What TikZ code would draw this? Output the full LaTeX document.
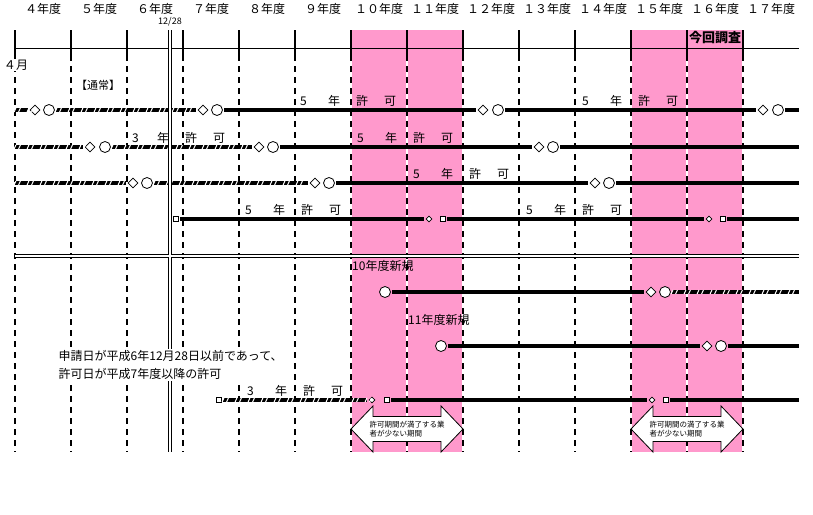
\documentclass[tikz,border=0pt]{standalone}
\usepackage{fontspec}
\setmainfont{Noto Sans CJK JP}
\usetikzlibrary{decorations.markings,shapes.geometric}
\definecolor{bandpink}{RGB}{255,153,204}
\newcommand{\nenkyoka}[1]{\makebox[28pt][l]{#1}\makebox[28pt][l]{年}\makebox[28pt][l]{許}可}
\tikzset{
  thickln/.style={line width=4pt},
  hatch/.style={line width=4pt, postaction={decorate, decoration={markings,
     mark=between positions 0 and 1 step 13pt with {
       \draw[white,line width=1pt] (-0.9pt,-2pt) -- (0.9pt,2pt);
       \draw[white,line width=1pt] (3.6pt,-2pt) -- (5.4pt,2pt);}}}},
  dia/.style={diamond, draw, fill=white, line width=0.8pt, inner sep=0pt, minimum width=11pt, minimum height=11pt, outer sep=1.5pt},
  cir/.style={circle, draw, fill=white, line width=0.8pt, inner sep=0pt, minimum size=11pt, outer sep=1.5pt},
  sdia/.style={diamond, draw, fill=white, line width=0.7pt, inner sep=0pt, minimum width=7pt, minimum height=7pt, outer sep=1.5pt},
  ssq/.style={rectangle, draw, fill=white, line width=0.7pt, inner sep=0pt, minimum size=5pt, outer sep=1.5pt},
  vdash/.style={line width=2pt, dash pattern=on 6pt off 5pt},
  vsolid/.style={line width=2pt},
  dbl/.style={double=white, double distance=2pt, line width=1pt},
  yearlab/.style={font=\fontsize{12pt}{14pt}\selectfont, inner sep=0pt},
  lab/.style={font=\fontsize{12pt}{14pt}\selectfont, inner sep=0pt},
  kyoka/.style={font=\fontsize{12pt}{14pt}\selectfont, inner sep=0pt, anchor=base west},
  blockarrow/.style={draw, fill=white, line width=0.8pt, line join=miter},
  arrowtext/.style={font=\fontsize{7.5pt}{9.5pt}\selectfont, align=left, inner sep=0pt}
}
\begin{document}
\begin{tikzpicture}[x=1pt,y=-1pt]
\useasboundingbox (0,0) rectangle (813,514);
\fill[white] (0,0) rectangle (813,514);
% pink bands
\fill[bandpink] (351,30) rectangle (463,452);
\fill[bandpink] (631,30) rectangle (743,452);
% header line
\draw[line width=1pt] (15,48) -- (799,48);
% vertical year lines
\foreach \i in {0,...,13} {
  \pgfmathsetmacro\xx{15+56*\i}
  \draw[white, line width=2pt] (\xx,55) -- (\xx,452);
  \draw[vdash] (\xx,55) -- (\xx,452);
  \draw[vsolid] (\xx,30) -- (\xx,55);
}
% year labels
\foreach \lab [count=\i from 0] in {４,５,６,７,８,９,１０,１１,１２,１３,１４,１５,１６,１７}
  \node[yearlab] (yr\i) at ({43+56*\i},8.5) {\lab 年度};
\node[font=\fontsize{13pt}{15pt}\selectfont\bfseries, inner sep=0pt] (konkai) at (715,38) {今回調査};
\node[font=\fontsize{9pt}{9pt}\selectfont, inner sep=0pt] (d1228) at (170,22) {12/28};
\node[lab, fill=white, inner sep=1pt] (shigatsu) at (16,65) {４月};
\node[font=\fontsize{11pt}{13pt}\selectfont, inner sep=0pt] (tsujo) at (98,85) {【通常】};
% double horizontal separator
\draw[dbl] (15,255.5) -- (799,255.5);

% Row 1
\coordinate (r1s) at (15,110);
\node[dia] (r1d1) at (35,110) {};
\node[cir] (r1c1) at (49,110) {};
\node[dia] (r1d2) at (203,110) {};
\node[cir] (r1c2) at (217,110) {};
\node[dia] (r1d3) at (483,110) {};
\node[cir] (r1c3) at (498,110) {};
\node[dia] (r1d4) at (763,110) {};
\node[cir] (r1c4) at (778,110) {};
\coordinate (r1e) at (799,110);
\draw[hatch] (r1s) -- (r1d1);
\draw[hatch] (r1c1) -- (r1d2);
\draw[thickln] (r1c2) -- (r1d3);
\draw[thickln] (r1c3) -- (r1d4);
\draw[thickln] (r1c4) -- (r1e);

% Row 2
\coordinate (r2s) at (15,147);
\node[dia] (r2d1) at (90,147) {};
\node[cir] (r2c1) at (105,147) {};
\node[dia] (r2d2) at (259,147) {};
\node[cir] (r2c2) at (273,147) {};
\node[dia] (r2d3) at (539,147) {};
\node[cir] (r2c3) at (553,147) {};
\coordinate (r2e) at (799,147);
\draw[hatch] (r2s) -- (r2d1);
\draw[hatch] (r2c1) -- (r2d2);
\draw[thickln] (r2c2) -- (r2d3);
\draw[thickln] (r2c3) -- (r2e);

% Row 3
\coordinate (r3s) at (15,183);
\node[dia] (r3d1) at (133,183) {};
\node[cir] (r3c1) at (147,183) {};
\node[dia] (r3d2) at (315,183) {};
\node[cir] (r3c2) at (329,183) {};
\node[dia] (r3d3) at (595,183) {};
\node[cir] (r3c3) at (609,183) {};
\coordinate (r3e) at (799,183);
\draw[hatch] (r3s) -- (r3d1);
\draw[hatch] (r3c1) -- (r3d2);
\draw[thickln] (r3c2) -- (r3d3);
\draw[thickln] (r3c3) -- (r3e);

% Row 4
\node[ssq] (r4q1) at (176,219) {};
\node[sdia] (r4d1) at (429,219) {};
\node[ssq] (r4q2) at (443,219) {};
\node[sdia] (r4d2) at (709,219) {};
\node[ssq] (r4q3) at (723,219) {};
\coordinate (r4e) at (799,219);
\draw[thickln] (r4q1) -- (r4d1);
\draw[thickln] (r4q2) -- (r4d2);
\draw[thickln] (r4q3) -- (r4e);

% Row 5
\node[cir] (r5c1) at (385,292) {};
\node[dia] (r5d1) at (651,292) {};
\node[cir] (r5c2) at (665,292) {};
\coordinate (r5e) at (799,292);
\draw[thickln] (r5c1) -- (r5d1);
\draw[hatch] (r5c2) -- (r5e);

% Row 6
\node[cir] (r6c1) at (441,346) {};
\node[dia] (r6d1) at (707,346) {};
\node[cir] (r6c2) at (721,346) {};
\coordinate (r6e) at (799,346);
\draw[thickln] (r6c1) -- (r6d1);
\draw[thickln] (r6c2) -- (r6e);

% Row 7
\node[ssq] (r7q1) at (219,400) {};
\node[sdia] (r7d1) at (372,400) {};
\node[ssq] (r7q2) at (387,400) {};
\node[sdia] (r7d2) at (652,400) {};
\node[ssq] (r7q3) at (666,400) {};
\coordinate (r7e) at (799,400);
\draw[hatch] (r7q1) -- (r7d1);
\draw[thickln] (r7q2) -- (r7d2);
\draw[thickln] (r7q3) -- (r7e);

% 12/28 double vertical
\draw[dbl] (169.5,30) -- (169.5,452);
\draw[white, line width=2pt] (167,255.5) -- (172,255.5);

% permit labels
\node[kyoka] (k1a) at (300,105.5) {\nenkyoka{5}};
\node[kyoka] (k1b) at (582,105.5) {\nenkyoka{5}};
\node[kyoka] (k2a) at (132,142.5) {\makebox[25pt][l]{3}\makebox[28pt][l]{年}\makebox[28pt][l]{許}可};
\node[kyoka] (k2b) at (357,142.5) {\nenkyoka{5}};
\node[kyoka] (k3a) at (413,178.5) {\nenkyoka{5}};
\node[kyoka] (k4a) at (245,214.5) {\nenkyoka{5}};
\node[kyoka] (k4b) at (526,214.5) {\nenkyoka{5}};
\node[kyoka] (k7a) at (247,395.5) {\nenkyoka{3}};

\node[lab, anchor=west] (new10) at (352,266) {10年度新規};
\node[lab, anchor=west] (new11) at (408,320) {11年度新規};
\node[lab, anchor=west, align=left, fill=white, inner sep=1.5pt, font=\fontsize{12pt}{18pt}\selectfont] (note) at (57,365) {申請日が平成6年12月28日以前であって、\\許可日が平成7年度以降の許可};

% block arrows
\coordinate (a1c) at (407,429);
\draw[blockarrow, shift={(a1c)}] (-56,0) -- (-34,-23) -- (-34,-12.5) -- (34,-12.5) -- (34,-23) -- (56,0) -- (34,23) -- (34,12.5) -- (-34,12.5) -- (-34,23) -- cycle;
\node[arrowtext] (a1) at (a1c) {許可期間が満了する業\\者が少ない期間};
\coordinate (a2c) at (687,429);
\draw[blockarrow, shift={(a2c)}] (-56,0) -- (-34,-23) -- (-34,-12.5) -- (34,-12.5) -- (34,-23) -- (56,0) -- (34,23) -- (34,12.5) -- (-34,12.5) -- (-34,23) -- cycle;
\node[arrowtext] (a2) at (a2c) {許可期間の満了する業\\者が少ない期間};
\end{tikzpicture}
\end{document}
